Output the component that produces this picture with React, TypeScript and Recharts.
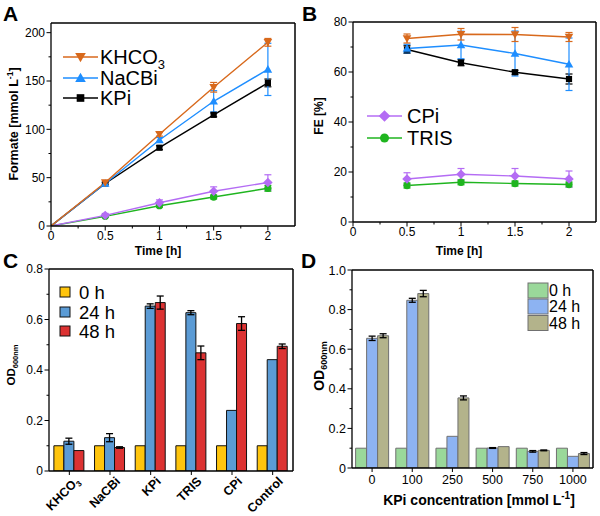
import React from 'react';
import { LineChart, Line, BarChart, Bar, XAxis, YAxis, ErrorBar } from 'recharts';

const FONT = '"Liberation Sans", Arial, Helvetica, sans-serif';

// ---------- Panel A: formate over time ----------
const hoursA = [0, 0.5, 1, 1.5, 2];
const formateKHCO3 = [0, 45, 95, 143.5, 190];
const formateKHCO3Err = [null, 1.5, 2, 5, 4];
const formateNaCBi = [0, 44, 89, 129, 162];
const formateNaCBiErr = [null, 1.5, 2.5, 11, 27];
const formateKPi = [0, 44, 81, 115, 148];
const formateKPiErr = [null, 1, 2, 2, 4];
const formateCPi = [0, 11, 24, 36, 45];
const formateCPiErr = [null, 2, 3, 4.5, 8];
const formateTRIS = [0, 10, 21, 30, 39];
const formateTRISErr = [null, 1, 1.5, 2, 3];

// ---------- Panel B: faradaic efficiency ----------
const hoursB = [0.5, 1, 1.5, 2];
const feKHCO3 = [73.4, 75.1, 75, 74];
const feKHCO3Err = [1.8, 2.3, 2.8, 1.8];
const feNaCBi = [69.4, 70.8, 67.4, 63.1];
const feNaCBiErr = [1.7, 5.5, 9, 10.5];
const feKPi = [69, 63.7, 59.9, 57.2];
const feKPiErr = [1.5, 1.2, 0.8, 2];
const feCPi = [17.2, 19.1, 18.4, 17.2];
const feCPiErr = [2.5, 2.3, 3, 3.2];
const feTRIS = [14.6, 15.9, 15.4, 15];
const feTRISErr = [1, 1, 1, 1];

// ---------- Panel C: growth in different electrolytes ----------
const electrolytes = ['KHCO3', 'NaCBi', 'KPi', 'TRIS', 'CPi', 'Control'];
const odC0h = [0.1, 0.1, 0.1, 0.1, 0.1, 0.1];
const odC24h = [0.118, 0.132, 0.653, 0.627, 0.24, 0.441];
const odC24hErr = [0.012, 0.016, 0.009, 0.008, null, null];
const odC48h = [0.081, 0.093, 0.667, 0.468, 0.584, 0.494];
const odC48hErr = [null, 0.003, 0.026, 0.027, 0.027, 0.009];

// ---------- Panel D: growth vs KPi concentration ----------
const kpiConc = ['0', '100', '250', '500', '750', '1000'];
const odD0h = [0.1, 0.1, 0.1, 0.1, 0.1, 0.1];
const odD24h = [0.655, 0.847, 0.16, 0.101, 0.084, 0.059];
const odD24hErr = [0.011, 0.01, null, 0.002, 0.004, null];
const odD48h = [0.668, 0.881, 0.354, 0.108, 0.089, 0.073];
const odD48hErr = [0.01, 0.016, 0.01, null, 0.002, 0.005];

// Tick positions (majors carry a label, the rest are minor ticks)
const timeTicks = [0, 0.25, 0.5, 0.75, 1, 1.25, 1.5, 1.75, 2];
const timeLabels: Record<string, string> = { '0': '0', '0.5': '0.5', '1': '1', '1.5': '1.5', '2': '2' };
const formateTicks = [0, 25, 50, 75, 100, 125, 150, 175, 200];
const formateLabels: Record<string, string> = { '0': '0', '50': '50', '100': '100', '150': '150', '200': '200' };
const feTicks = [0, 10, 20, 30, 40, 50, 60, 70, 80];
const feLabels: Record<string, string> = { '0': '0', '20': '20', '40': '40', '60': '60', '80': '80' };
const odCTicks = [0, 0.1, 0.2, 0.3, 0.4, 0.5, 0.6, 0.7, 0.8];
const odCLabels: Record<string, string> = { '0': '0', '0.2': '0.2', '0.4': '0.4', '0.6': '0.6', '0.8': '0.8' };
const odDTicks = [0, 0.1, 0.2, 0.3, 0.4, 0.5, 0.6, 0.7, 0.8, 0.9, 1];
const odDLabels: Record<string, string> = { '0': '0', '0.2': '0.2', '0.4': '0.4', '0.6': '0.6', '0.8': '0.8', '1': '1.0' };

const C_ORANGE = '#D8691C';
const C_BLUE = '#1E8EFF';
const C_BLACK = '#000000';
const C_PURPLE = '#B46CF4';
const C_GREEN = '#1FB51F';

const BAR_C = { h0: '#FFC50D', h24: '#5B9BD5', h48: '#DC3232' };
const BAR_D = { h0: '#9AD89A', h24: '#8DB3F2', h48: '#B3B38B' };

// Panel geometry: each panel is a 300x258 chart; plot area set by margins and axis sizes
type Layout = { left: number; top: number; marginTop: number; marginRight: number; yAxisW: number; xAxisH: number };
const PANEL_W = 300;
const PANEL_H = 258;
const LAYOUT_A: Layout = { left: 0, top: 0, marginTop: 23, marginRight: 5, yAxisW: 51, xAxisH: 32 };
const LAYOUT_B: Layout = { left: 300, top: 0, marginTop: 22, marginRight: 4, yAxisW: 53, xAxisH: 36 };
const LAYOUT_C: Layout = { left: 0, top: 258, marginTop: 11, marginRight: 7, yAxisW: 49, xAxisH: 45 };
const LAYOUT_D: Layout = { left: 300, top: 258, marginTop: 12, marginRight: 7, yAxisW: 52, xAxisH: 48 };

const marginOf = (l: Layout) => ({ top: l.marginTop, right: l.marginRight, left: 0, bottom: 0 });

const formateRows = hoursA.map((t, i) => ({
  t,
  k: formateKHCO3[i], kErr: formateKHCO3Err[i],
  n: formateNaCBi[i], nErr: formateNaCBiErr[i],
  p: formateKPi[i], pErr: formateKPiErr[i],
  c: formateCPi[i], cErr: formateCPiErr[i],
  r: formateTRIS[i], rErr: formateTRISErr[i],
}));

const feRows = hoursB.map((t, i) => ({
  t,
  k: feKHCO3[i], kErr: feKHCO3Err[i],
  n: feNaCBi[i], nErr: feNaCBiErr[i],
  p: feKPi[i], pErr: feKPiErr[i],
  c: feCPi[i], cErr: feCPiErr[i],
  r: feTRIS[i], rErr: feTRISErr[i],
}));

const odCRows = electrolytes.map((name, i) => ({
  name,
  h0: odC0h[i],
  h24: odC24h[i], h24Err: odC24hErr[i],
  h48: odC48h[i], h48Err: odC48hErr[i],
}));

const odDRows = kpiConc.map((name, i) => ({
  name,
  h0: odD0h[i],
  h24: odD24h[i], h24Err: odD24hErr[i],
  h48: odD48h[i], h48Err: odD48hErr[i],
}));

type MarkerKind = 'down' | 'up' | 'square' | 'diamond' | 'circle';

function Marker({ kind, cx, cy, color, s }: { kind: MarkerKind; cx: number; cy: number; color: string; s: number }) {
  switch (kind) {
    case 'down':
      return <polygon points={`${cx - s},${cy - s * 0.75} ${cx + s},${cy - s * 0.75} ${cx},${cy + s}`} fill={color} />;
    case 'up':
      return <polygon points={`${cx - s},${cy + s * 0.75} ${cx + s},${cy + s * 0.75} ${cx},${cy - s}`} fill={color} />;
    case 'square':
      return <rect x={cx - s * 0.72} y={cy - s * 0.72} width={s * 1.44} height={s * 1.44} fill={color} />;
    case 'diamond':
      return <polygon points={`${cx},${cy - s * 1.1} ${cx + s * 1.1},${cy} ${cx},${cy + s * 1.1} ${cx - s * 1.1},${cy}`} fill={color} />;
    default:
      return <circle cx={cx} cy={cy} r={s * 0.85} fill={color} />;
  }
}

const dotFor = (kind: MarkerKind, color: string) => (props: any) => {
  const { cx, cy, index, payload } = props;
  if (payload && payload.t === 0) return <g key={`d-${index}`} />;
  return <g key={`d-${index}`}><Marker kind={kind} cx={cx} cy={cy} color={color} s={4.3} /></g>;
};

const yTick = (labels: Record<string, string>, fontSize = 12) => (props: any) => {
  const { x, y, payload } = props;
  const label = labels[String(payload.value)];
  const major = label !== undefined;
  return (
    <g>
      <line x1={x} x2={x - (major ? 4.5 : 2.5)} y1={y} y2={y} stroke="#000" strokeWidth={1} />
      {major && (
        <text x={x - 6} y={y} dy="0.36em" textAnchor="end" fontSize={fontSize} fontFamily={FONT} fill="#000">
          {label}
        </text>
      )}
    </g>
  );
};

const xTick = (labels: Record<string, string>, fontSize = 12, gap = 14) => (props: any) => {
  const { x, y, payload } = props;
  const label = labels[String(payload.value)];
  const major = label !== undefined;
  return (
    <g>
      <line x1={x} x2={x} y1={y} y2={y + (major ? 4.5 : 2.5)} stroke="#000" strokeWidth={1} />
      {major && (
        <text x={x} y={y + gap} textAnchor="middle" fontSize={fontSize} fontFamily={FONT} fill="#000">
          {label}
        </text>
      )}
    </g>
  );
};

const categoryTick = (fontSize = 12.5, gap = 16) => (props: any) => {
  const { x, y, payload } = props;
  return (
    <g>
      <line x1={x} x2={x} y1={y} y2={y + 4} stroke="#000" strokeWidth={1} />
      <text x={x} y={y + gap} textAnchor="middle" fontSize={fontSize} fontFamily={FONT} fill="#000">
        {payload.value}
      </text>
    </g>
  );
};

const rotatedTick = (props: any) => {
  const { x, y, payload } = props;
  const ax = x + 11;
  const ay = y + 11;
  const name = String(payload.value);
  return (
    <g>
      <line x1={x} x2={x} y1={y} y2={y + 4} stroke="#000" strokeWidth={1} />
      <text x={ax} y={ay} transform={`rotate(-45, ${ax}, ${ay})`} textAnchor="end" fontSize={12.5} fontWeight="bold" fontFamily={FONT} fill="#000">
        {name === 'KHCO3' ? (
          <>
            KHCO<tspan fontSize={8} dy={3}>3</tspan>
          </>
        ) : (
          name
        )}
      </text>
    </g>
  );
};

const AXIS_LINE = { stroke: '#000', strokeWidth: 1.3 };

function PanelA() {
  const l = LAYOUT_A;
  return (
    <LineChart width={PANEL_W} height={PANEL_H} data={formateRows} margin={marginOf(l)}>
      <XAxis dataKey="t" type="number" domain={[0, 2.25]} ticks={timeTicks} interval={0} allowDataOverflow
        tickSize={0} tickMargin={0} tickLine={false} tick={xTick(timeLabels)} height={l.xAxisH} axisLine={AXIS_LINE} />
      <YAxis type="number" domain={[0, 210]} ticks={formateTicks} interval={0} allowDataOverflow
        tickSize={0} tickMargin={0} tickLine={false} tick={yTick(formateLabels)} width={l.yAxisW} axisLine={AXIS_LINE} />
      <Line dataKey="r" stroke={C_GREEN} strokeWidth={1.4} dot={dotFor('circle', C_GREEN)} isAnimationActive={false}>
        <ErrorBar dataKey="rErr" width={3.5} stroke={C_GREEN} strokeWidth={1.2} direction="y" />
      </Line>
      <Line dataKey="c" stroke={C_PURPLE} strokeWidth={1.4} dot={dotFor('diamond', C_PURPLE)} isAnimationActive={false}>
        <ErrorBar dataKey="cErr" width={3.5} stroke={C_PURPLE} strokeWidth={1.2} direction="y" />
      </Line>
      <Line dataKey="p" stroke={C_BLACK} strokeWidth={1.4} dot={dotFor('square', C_BLACK)} isAnimationActive={false}>
        <ErrorBar dataKey="pErr" width={3.5} stroke={C_BLACK} strokeWidth={1.2} direction="y" />
      </Line>
      <Line dataKey="n" stroke={C_BLUE} strokeWidth={1.4} dot={dotFor('up', C_BLUE)} isAnimationActive={false}>
        <ErrorBar dataKey="nErr" width={3.5} stroke={C_BLUE} strokeWidth={1.2} direction="y" />
      </Line>
      <Line dataKey="k" stroke={C_ORANGE} strokeWidth={1.4} dot={dotFor('down', C_ORANGE)} isAnimationActive={false}>
        <ErrorBar dataKey="kErr" width={3.5} stroke={C_ORANGE} strokeWidth={1.2} direction="y" />
      </Line>
    </LineChart>
  );
}

function PanelB() {
  const l = LAYOUT_B;
  return (
    <LineChart width={PANEL_W} height={PANEL_H} data={feRows} margin={marginOf(l)}>
      <XAxis dataKey="t" type="number" domain={[0, 2.25]} ticks={timeTicks} interval={0} allowDataOverflow
        tickSize={0} tickMargin={0} tickLine={false} tick={xTick(timeLabels)} height={l.xAxisH} axisLine={AXIS_LINE} />
      <YAxis type="number" domain={[0, 80]} ticks={feTicks} interval={0} allowDataOverflow
        tickSize={0} tickMargin={0} tickLine={false} tick={yTick(feLabels)} width={l.yAxisW} axisLine={AXIS_LINE} />
      <Line dataKey="r" stroke={C_GREEN} strokeWidth={1.4} dot={dotFor('circle', C_GREEN)} isAnimationActive={false}>
        <ErrorBar dataKey="rErr" width={3.5} stroke={C_GREEN} strokeWidth={1.2} direction="y" />
      </Line>
      <Line dataKey="c" stroke={C_PURPLE} strokeWidth={1.4} dot={dotFor('diamond', C_PURPLE)} isAnimationActive={false}>
        <ErrorBar dataKey="cErr" width={3.5} stroke={C_PURPLE} strokeWidth={1.2} direction="y" />
      </Line>
      <Line dataKey="p" stroke={C_BLACK} strokeWidth={1.4} dot={dotFor('square', C_BLACK)} isAnimationActive={false}>
        <ErrorBar dataKey="pErr" width={3.5} stroke={C_BLACK} strokeWidth={1.2} direction="y" />
      </Line>
      <Line dataKey="n" stroke={C_BLUE} strokeWidth={1.4} dot={dotFor('up', C_BLUE)} isAnimationActive={false}>
        <ErrorBar dataKey="nErr" width={3.5} stroke={C_BLUE} strokeWidth={1.2} direction="y" />
      </Line>
      <Line dataKey="k" stroke={C_ORANGE} strokeWidth={1.4} dot={dotFor('down', C_ORANGE)} isAnimationActive={false}>
        <ErrorBar dataKey="kErr" width={3.5} stroke={C_ORANGE} strokeWidth={1.2} direction="y" />
      </Line>
    </LineChart>
  );
}

function PanelC() {
  const l = LAYOUT_C;
  return (
    <BarChart width={PANEL_W} height={PANEL_H} data={odCRows} margin={marginOf(l)} barCategoryGap="12%" barGap={0}>
      <XAxis dataKey="name" interval={0} tickSize={0} tickMargin={0} tickLine={false} tick={rotatedTick} height={l.xAxisH} axisLine={AXIS_LINE} />
      <YAxis type="number" domain={[0, 0.8]} ticks={odCTicks} interval={0} allowDataOverflow
        tickSize={0} tickMargin={0} tickLine={false} tick={yTick(odCLabels)} width={l.yAxisW} axisLine={AXIS_LINE} />
      <Bar dataKey="h0" fill={BAR_C.h0} stroke="#111" strokeWidth={1} isAnimationActive={false} />
      <Bar dataKey="h24" fill={BAR_C.h24} stroke="#111" strokeWidth={1} isAnimationActive={false}>
        <ErrorBar dataKey="h24Err" width={3.5} stroke="#000" strokeWidth={1.3} direction="y" />
      </Bar>
      <Bar dataKey="h48" fill={BAR_C.h48} stroke="#111" strokeWidth={1} isAnimationActive={false}>
        <ErrorBar dataKey="h48Err" width={3.5} stroke="#000" strokeWidth={1.3} direction="y" />
      </Bar>
    </BarChart>
  );
}

function PanelD() {
  const l = LAYOUT_D;
  return (
    <BarChart width={PANEL_W} height={PANEL_H} data={odDRows} margin={marginOf(l)} barCategoryGap="9%" barGap={0}>
      <XAxis dataKey="name" interval={0} tickSize={0} tickMargin={0} tickLine={false} tick={categoryTick()} height={l.xAxisH} axisLine={AXIS_LINE} />
      <YAxis type="number" domain={[0, 1]} ticks={odDTicks} interval={0} allowDataOverflow
        tickSize={0} tickMargin={0} tickLine={false} tick={yTick(odDLabels, 12.5)} width={l.yAxisW} axisLine={AXIS_LINE} />
      <Bar dataKey="h0" fill={BAR_D.h0} stroke="#707070" strokeWidth={1} isAnimationActive={false} />
      <Bar dataKey="h24" fill={BAR_D.h24} stroke="#707070" strokeWidth={1} isAnimationActive={false}>
        <ErrorBar dataKey="h24Err" width={3.5} stroke="#000" strokeWidth={1.3} direction="y" />
      </Bar>
      <Bar dataKey="h48" fill={BAR_D.h48} stroke="#707070" strokeWidth={1} isAnimationActive={false}>
        <ErrorBar dataKey="h48Err" width={3.5} stroke="#000" strokeWidth={1.3} direction="y" />
      </Bar>
    </BarChart>
  );
}

// Top and right edges of a panel's plot box, derived from the same layout numbers as the chart
function PlotFrame({ layout }: { layout: Layout }) {
  const x0 = layout.left + layout.yAxisW;
  const y0 = layout.top + layout.marginTop;
  const x1 = layout.left + PANEL_W - layout.marginRight;
  const y1 = layout.top + PANEL_H - layout.xAxisH;
  return (
    <g>
      <line x1={x0} x2={x1} y1={y0} y2={y0} stroke="#000" strokeWidth={1.5} />
      <line x1={x1} x2={x1} y1={y0} y2={y1} stroke="#000" strokeWidth={1.5} />
    </g>
  );
}

const titleStyle = { fontFamily: FONT, fontWeight: 'bold' as const, fill: '#000' };

function LineLegendRow({ x, y, kind, color, children, textX }: { x: number; y: number; kind: MarkerKind; color: string; children: React.ReactNode; textX: number }) {
  return (
    <g>
      <line x1={x} x2={x + 35} y1={y} y2={y} stroke={color} strokeWidth={1.6} />
      <Marker kind={kind} cx={x + 17.5} cy={y} color={color} s={5.3} />
      <text x={textX} y={y + 7} fontSize={20} fontFamily={FONT} fill="#000">{children}</text>
    </g>
  );
}

function Annotations() {
  return (
    <svg width={600} height={516} style={{ position: 'absolute', left: 0, top: 0, pointerEvents: 'none' }}>
      <PlotFrame layout={LAYOUT_A} />
      <PlotFrame layout={LAYOUT_B} />
      <PlotFrame layout={LAYOUT_C} />
      <PlotFrame layout={LAYOUT_D} />

      {/* panel letters */}
      <text x={3} y={21} fontSize={21} {...titleStyle}>A</text>
      <text x={302} y={21} fontSize={21} {...titleStyle}>B</text>
      <text x={3} y={268} fontSize={21} {...titleStyle}>C</text>
      <text x={301} y={268} fontSize={21} {...titleStyle}>D</text>

      {/* axis titles, panel A */}
      <text transform="translate(18,124) rotate(-90)" textAnchor="middle" fontSize={12.5} {...titleStyle}>
        Formate [mmol L<tspan fontSize={8.5} dy={-5}>-1</tspan><tspan dy={5}>]</tspan>
      </text>
      <text x={158} y={255} textAnchor="middle" fontSize={12} {...titleStyle}>Time [h]</text>

      {/* axis titles, panel B */}
      <text transform="translate(323,116) rotate(-90)" textAnchor="middle" fontSize={12} {...titleStyle}>FE [%]</text>
      <text x={459} y={255} textAnchor="middle" fontSize={12} {...titleStyle}>Time [h]</text>

      {/* axis titles, panel C */}
      <text transform="translate(15,365) rotate(-90)" textAnchor="middle" fontSize={11.5} {...titleStyle}>
        OD<tspan fontSize={7.5} dy={2.5}>600nm</tspan>
      </text>

      {/* axis titles, panel D */}
      <text transform="translate(324,366) rotate(-90)" textAnchor="middle" fontSize={14} {...titleStyle}>
        OD<tspan fontSize={9} dy={3}>600nm</tspan>
      </text>
      <text x={479} y={505} textAnchor="middle" fontSize={14} {...titleStyle}>
        KPi concentration [mmol L<tspan fontSize={10} dy={-6}>-1</tspan><tspan dy={6}>]</tspan>
      </text>

      {/* legend, panel A */}
      <LineLegendRow x={63} y={57} kind="down" color={C_ORANGE} textX={100}>
        KHCO<tspan fontSize={13} dy={5}>3</tspan>
      </LineLegendRow>
      <LineLegendRow x={63} y={78} kind="up" color={C_BLUE} textX={100}>NaCBi</LineLegendRow>
      <LineLegendRow x={63} y={98} kind="square" color={C_BLACK} textX={100}>KPi</LineLegendRow>

      {/* legend, panel B */}
      <LineLegendRow x={367} y={116} kind="diamond" color={C_PURPLE} textX={407}>CPi</LineLegendRow>
      <LineLegendRow x={367} y={138} kind="circle" color={C_GREEN} textX={407}>TRIS</LineLegendRow>

      {/* legend, panel C */}
      {[
        { label: '0 h', color: BAR_C.h0, y: 292 },
        { label: '24 h', color: BAR_C.h24, y: 312 },
        { label: '48 h', color: BAR_C.h48, y: 331 },
      ].map((r) => (
        <g key={r.label}>
          <rect x={60} y={r.y - 5} width={10} height={10} fill={r.color} stroke="#111" strokeWidth={1} />
          <text x={79} y={r.y + 6.5} fontSize={18.5} fontFamily={FONT} fill="#000">{r.label}</text>
        </g>
      ))}

      {/* legend, panel D */}
      {[
        { label: '0 h', color: BAR_D.h0, y: 283 },
        { label: '24 h', color: BAR_D.h24, y: 299 },
        { label: '48 h', color: BAR_D.h48, y: 315.5 },
      ].map((r) => (
        <g key={r.label}>
          <rect x={528} y={r.y} width={20} height={15} fill={r.color} stroke="#707070" strokeWidth={1} />
          <text x={549} y={r.y + 13} fontSize={16} fontFamily={FONT} fill="#000">{r.label}</text>
        </g>
      ))}
    </svg>
  );
}

export default function App() {
  return (
    <div style={{ position: 'absolute', left: 0, top: 0, width: 600, height: 516, background: '#fff', fontFamily: FONT, overflow: 'hidden' }}>
      <div style={{ position: 'absolute', left: LAYOUT_A.left, top: LAYOUT_A.top }}><PanelA /></div>
      <div style={{ position: 'absolute', left: LAYOUT_B.left, top: LAYOUT_B.top }}><PanelB /></div>
      <div style={{ position: 'absolute', left: LAYOUT_C.left, top: LAYOUT_C.top }}><PanelC /></div>
      <div style={{ position: 'absolute', left: LAYOUT_D.left, top: LAYOUT_D.top }}><PanelD /></div>
      <Annotations />
    </div>
  );
}
